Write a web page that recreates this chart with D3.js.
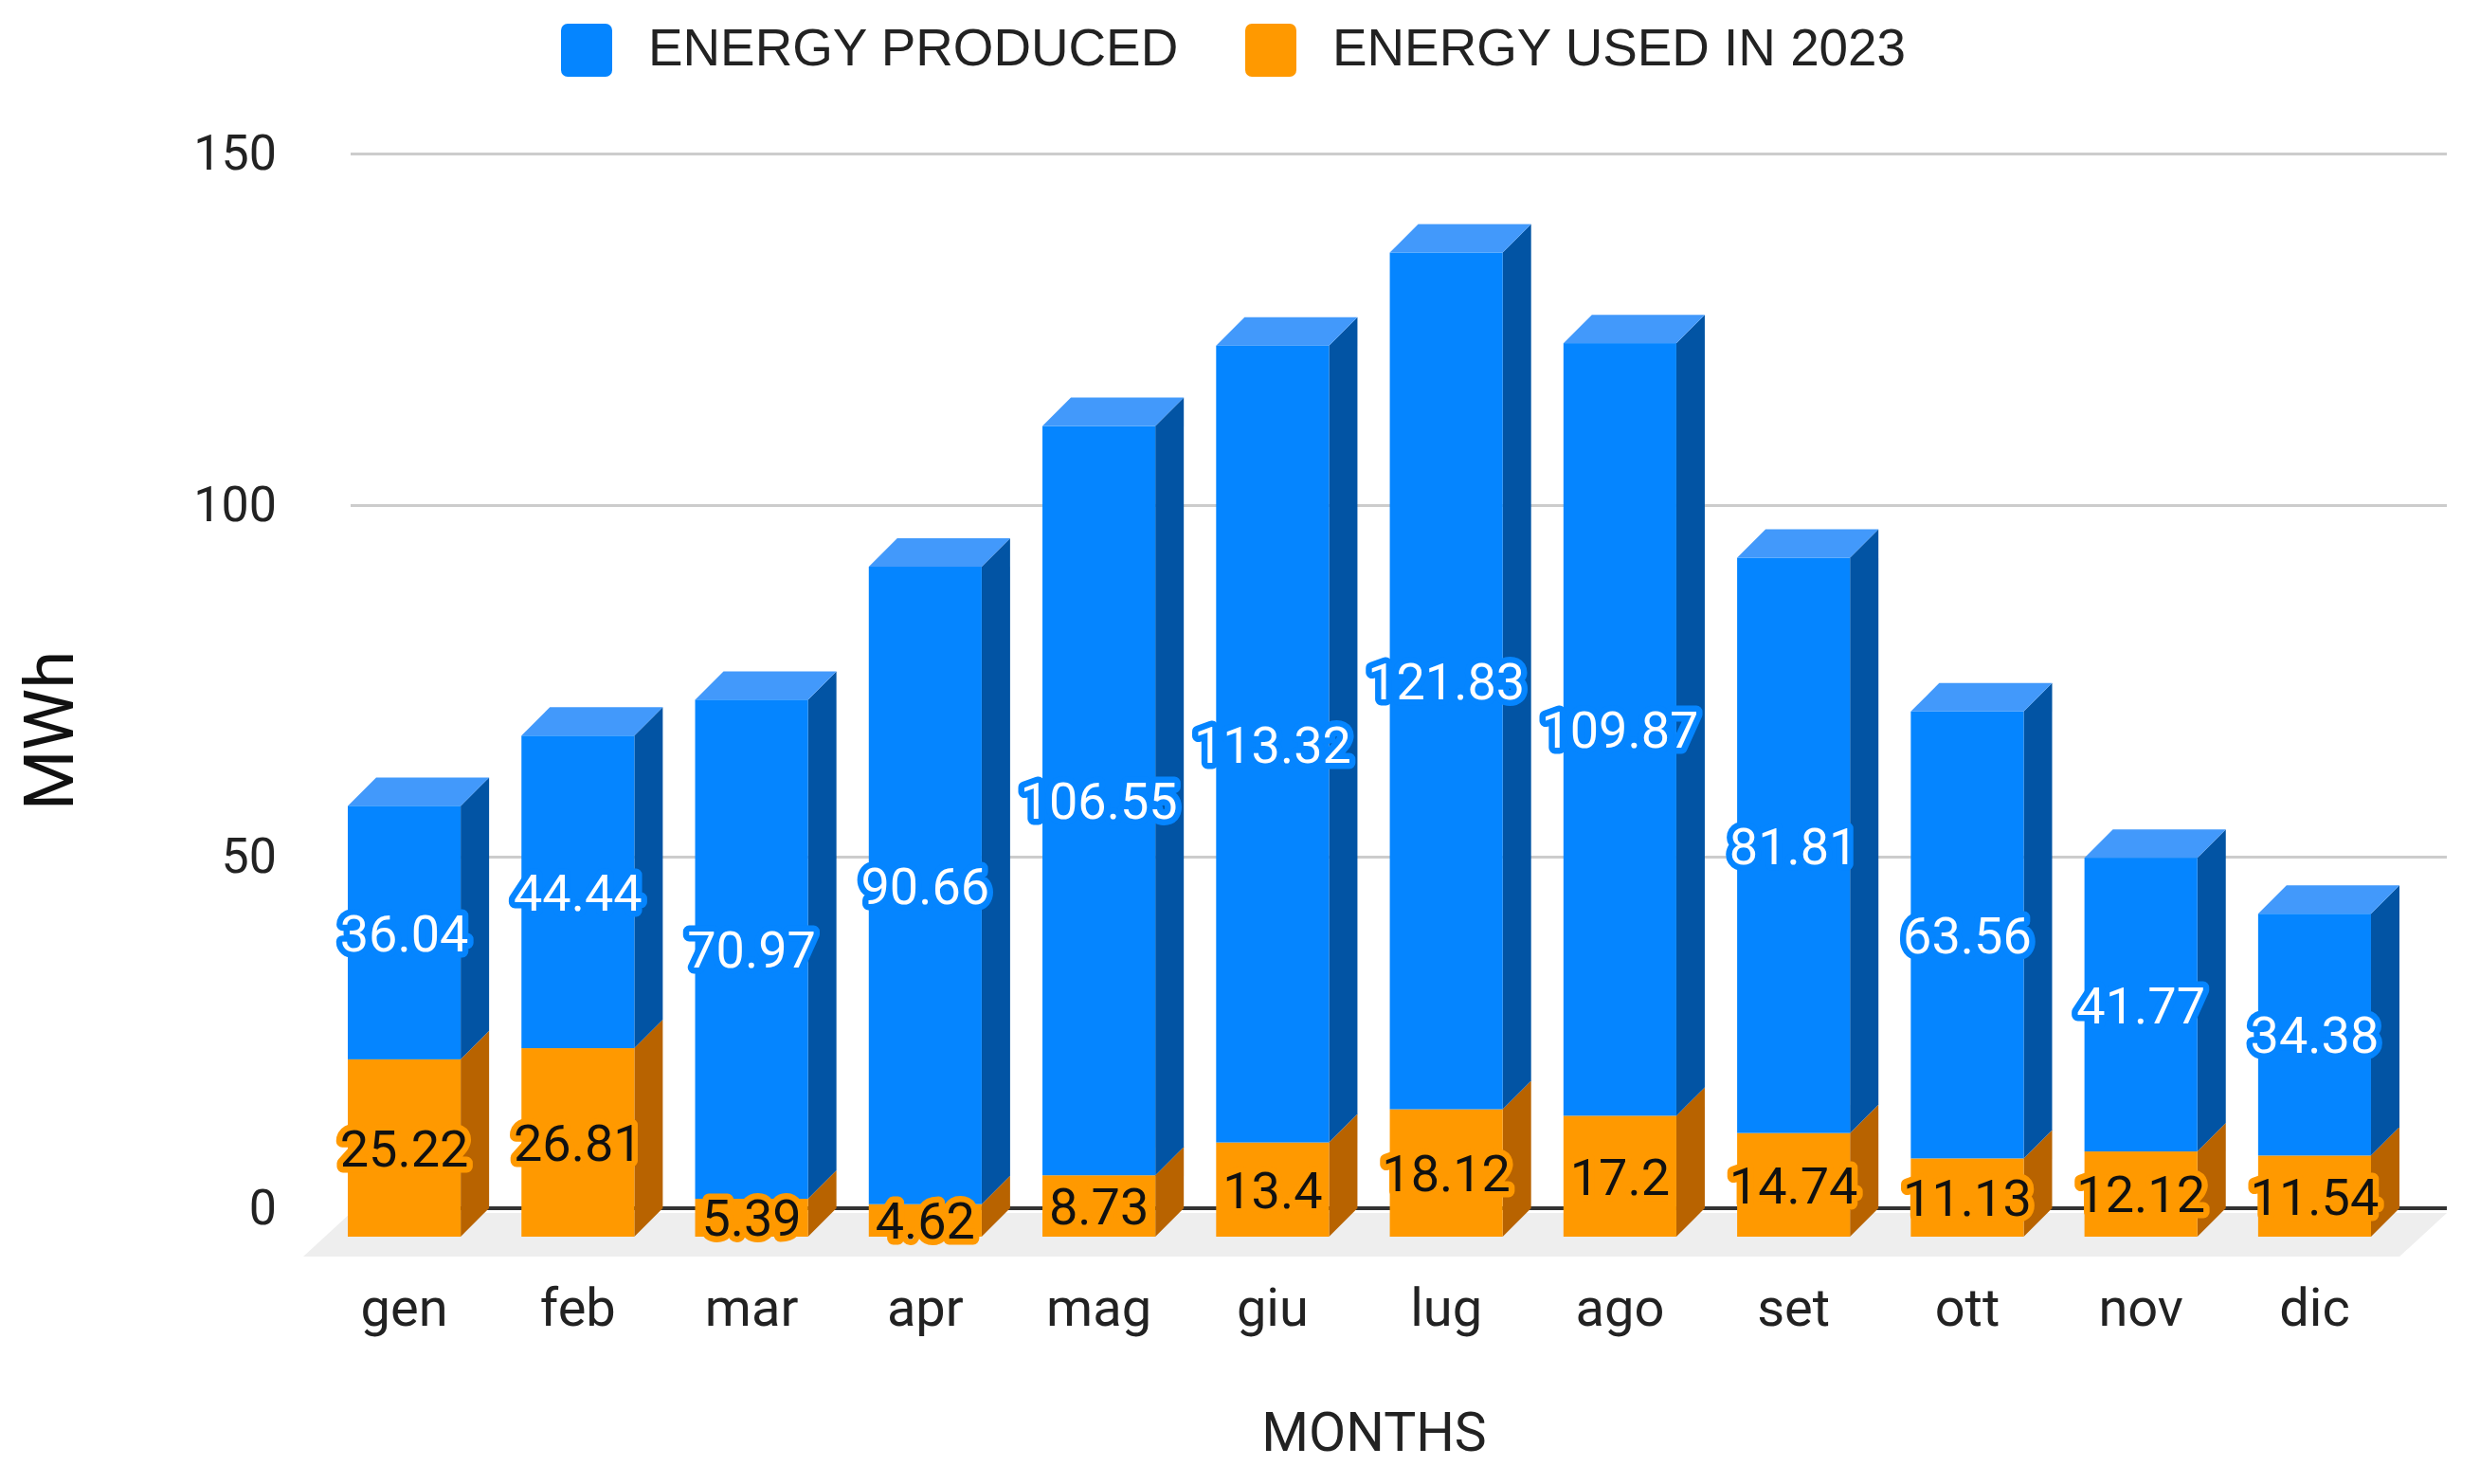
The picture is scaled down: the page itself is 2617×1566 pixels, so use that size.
<!DOCTYPE html>
<html>
<head>
<meta charset="utf-8">
<script src="https://cdn.jsdelivr.net/npm/d3@7"></script>
<style>
html,body{margin:0;padding:0;background:#fff;}
svg{display:block;}
</style>
</head>
<body>
<svg></svg>
<script>
var months = ["gen","feb","mar","apr","mag","giu","lug","ago","set","ott","nov","dic"];
var produced = [36.04,44.44,70.97,90.66,106.55,113.32,121.83,109.87,81.81,63.56,41.77,34.38];
var used = [25.22,26.81,5.39,4.62,8.73,13.4,18.12,17.2,14.74,11.13,12.12,11.54];
var yTicks = [0,50,100,150];
var legendLabels = ["ENERGY PRODUCED","ENERGY USED IN 2023"];

var svgWidth=2617,svgHeight=1566;
var depth=30;

var svg=d3.select("svg")
   .attr("width",svgWidth)
   .attr("height",svgHeight);

var colors={
   used:{front:"#ff9900",side:"#b86300",text:"#111",halo:"#ff9900"},
   produced:{front:"#0585ff",side:"#0254a4",top:"#4299fb",text:"#fff",halo:"#0585ff"}
};

// back wall scale, the front of the bars sits one depth lower and to the left
var y=d3.scaleLinear().domain([0,150]).range([1275,162]);
var x=d3.scaleBand().domain(months).range([367,2502]).paddingInner(0.35).paddingOuter(0);

var yAxis=d3.axisLeft(y).tickValues(yTicks).tickSize(-2212).tickPadding(78);
var yG=svg.append("g")
   .attr("transform","translate(370,0)")
   .call(yAxis);
yG.select(".domain").remove();
yG.selectAll("line")
   .attr("stroke","#ccc")
   .attr("stroke-width",3);
yG.selectAll("text")
   .attr("font-family","Roboto")
   .attr("font-size",52)
   .attr("fill","#222");

// floor
var floorPts=[[370,y(0)+5],[2582,y(0)+5],[2532,y(0)+51],[320,y(0)+51]];
svg.append("polygon")
   .attr("points",floorPts.join(" "))
   .attr("fill","#eee");

svg.append("line")
   .attr("x1",370).attr("x2",2582)
   .attr("y1",y(0)).attr("y2",y(0))
   .attr("stroke","#333")
   .attr("stroke-width",4);

var rows=months.map(function(m,i){
   return {month:m,used:used[i],produced:produced[i]};
});
var stack=d3.stack().keys(["used","produced"])(rows);

function fy(v){ return y(v)+depth; }

stack.forEach(function(layer){
   var c=colors[layer.key];
   var g=svg.append("g");

   g.selectAll(".side")
      .data(layer)
      .enter()
      .append("polygon")
      .attr("fill",c.side)
      .attr("points",function(d){
         var r=x(d.data.month)+x.bandwidth();
         return [[r,fy(d[1])],[r+depth,fy(d[1])-depth],[r+depth,fy(d[0])-depth],[r,fy(d[0])]].join(" ");
      });

   if(c.top){
      g.selectAll(".top")
         .data(layer)
         .enter()
         .append("polygon")
         .attr("fill",c.top)
         .attr("points",function(d){
            var l=x(d.data.month),r=l+x.bandwidth();
            return [[l,fy(d[1])],[l+depth,fy(d[1])-depth],[r+depth,fy(d[1])-depth],[r,fy(d[1])]].join(" ");
         });
   }

   g.selectAll("rect")
      .data(layer)
      .enter()
      .append("rect")
      .attr("x",function(d){ return x(d.data.month); })
      .attr("width",x.bandwidth())
      .attr("y",function(d){ return fy(d[1]); })
      .attr("height",function(d){ return fy(d[0])-fy(d[1]); })
      .attr("fill",c.front);
});

// value labels go last so they sit over every bar
stack.forEach(function(layer){
   var c=colors[layer.key];
   svg.append("g").selectAll("text")
      .data(layer)
      .enter()
      .append("text")
      .attr("x",function(d){ return x(d.data.month)+x.bandwidth()/2; })
      .attr("y",function(d){ return (fy(d[0])+fy(d[1]))/2; })
      .attr("dy","0.36em")
      .attr("text-anchor","middle")
      .attr("font-family","Roboto")
      .attr("font-size",54)
      .attr("fill",c.text)
      .attr("stroke",c.halo)
      .attr("stroke-width",13)
      .attr("stroke-linejoin","round")
      .attr("paint-order","stroke")
      .text(function(d){ return d.data[layer.key]; });
});

var xAxis=d3.axisBottom(x).tickSize(0).tickPadding(54);
var xG=svg.append("g")
   .attr("transform","translate(0,"+fy(0)+")")
   .call(xAxis);
xG.select(".domain").remove();
xG.selectAll("text")
   .attr("font-family","Roboto")
   .attr("font-size",56)
   .attr("fill","#222");

svg.append("text")
   .attr("x",1450)
   .attr("y",1531)
   .attr("text-anchor","middle")
   .attr("font-family","Roboto")
   .attr("font-size",57)
   .attr("fill","#222")
   .text("MONTHS");

svg.append("text")
   .attr("transform","translate(77,771) rotate(-90)")
   .attr("text-anchor","middle")
   .attr("font-family","Roboto")
   .attr("font-size",73)
   .attr("fill","#111")
   .text("MWh");

// legend
var legendX=[592,1314];
var legendColors=[colors.produced.front,colors.used.front];
var legend=svg.append("g").selectAll("g")
   .data(legendLabels)
   .enter()
   .append("g")
   .attr("transform",function(d,i){ return "translate("+legendX[i]+",25)"; });
legend.append("rect")
   .attr("width",54)
   .attr("height",56)
   .attr("rx",7)
   .attr("fill",function(d,i){ return legendColors[i]; });
legend.append("text")
   .attr("x",92)
   .attr("y",44)
   .attr("font-family","Liberation Sans")
   .attr("font-size",54.8)
   .attr("fill","#222")
   .text(function(d){ return d; });
</script>
</body>
</html>
